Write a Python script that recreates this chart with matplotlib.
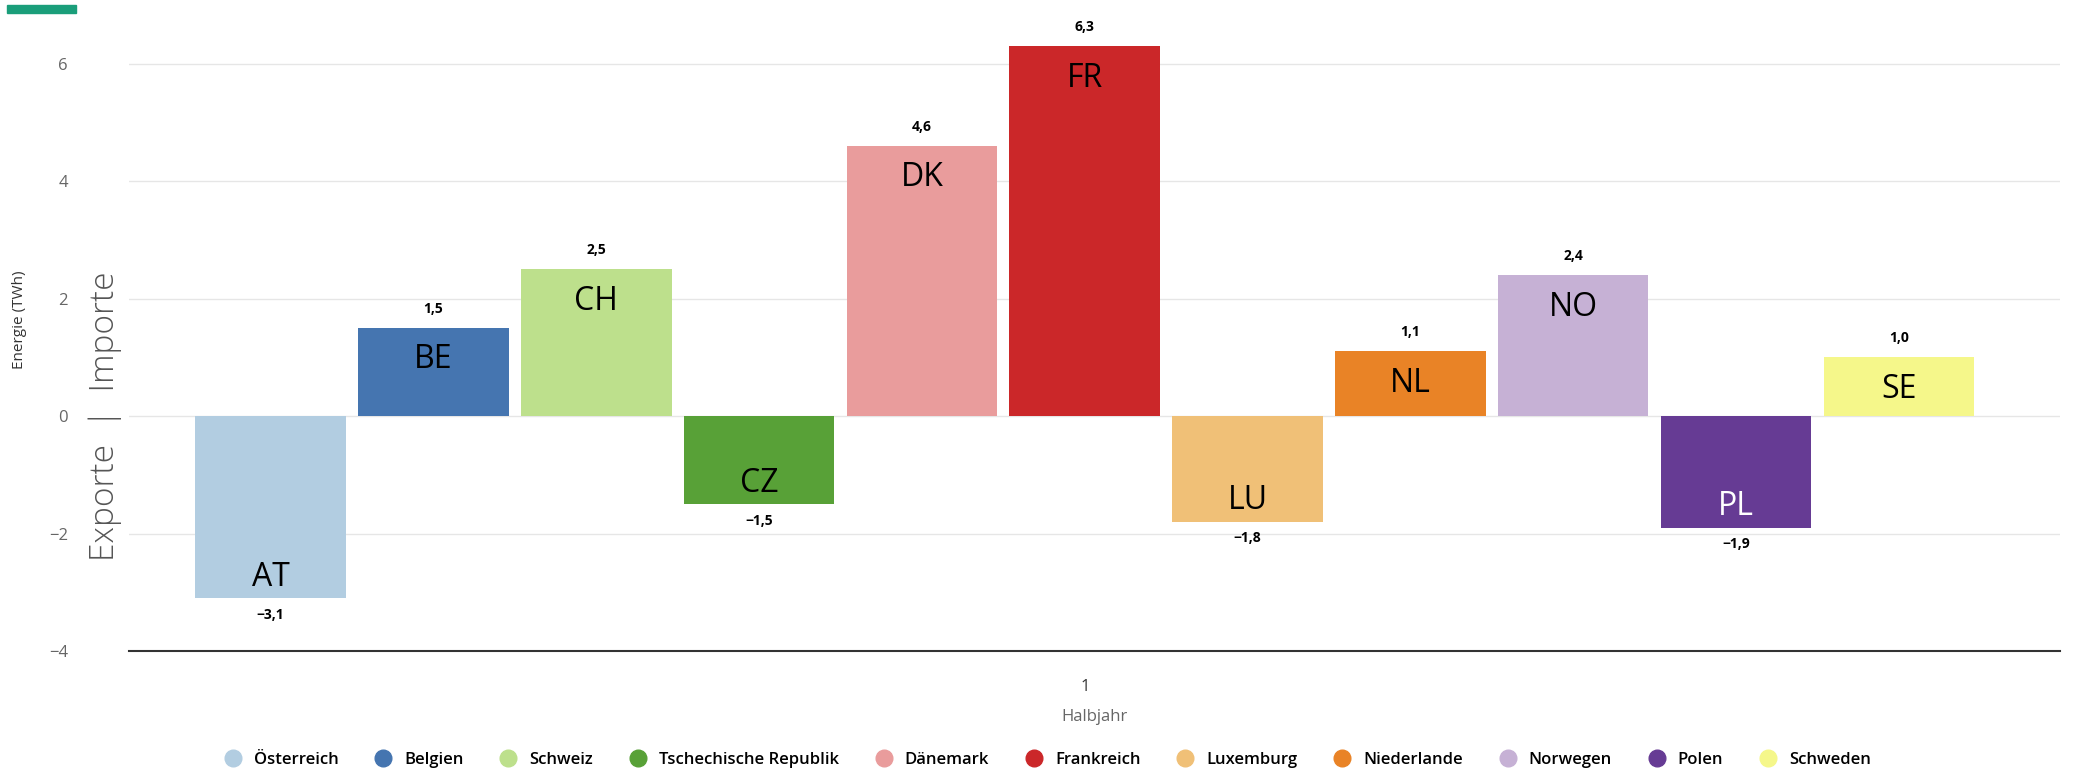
import matplotlib.pyplot as plt
from matplotlib.lines import Line2D
from matplotlib.transforms import blended_transform_factory

plt.rcParams['font.family'] = ['Open Sans', 'DejaVu Sans']

# data: net exchange per neighbour country, first half-year (TWh)
codes = ["AT", "BE", "CH", "CZ", "DK", "FR", "LU", "NL", "NO", "PL", "SE"]
names = ["Österreich", "Belgien", "Schweiz", "Tschechische Republik", "Dänemark",
         "Frankreich", "Luxemburg", "Niederlande", "Norwegen", "Polen", "Schweden"]
values = [-3.1, 1.5, 2.5, -1.5, 4.6, 6.3, -1.8, 1.1, 2.4, -1.9, 1.0]
colors = ["#b2cde1", "#4575b0", "#bde08c", "#58a137", "#e99c9c", "#cb2729",
          "#f0c077", "#e98326", "#c6b1d5", "#663b94", "#f5f78a"]
yticks = [-4, -2, 0, 2, 4, 6]

W, H = 2087, 769
fig = plt.figure(figsize=(W / 100, H / 100), dpi=100)
ax = fig.add_axes([129 / W, 118 / H, 1931 / W, 646 / H])

xs = list(range(len(values)))
ax.bar(xs, values, width=0.925, color=colors, zorder=2)

for x, v, c in zip(xs, values, codes):
    txt = f"{v:.1f}".replace(".", ",").replace("-", "\u2212")
    if v >= 0:
        ax.annotate(txt, (x, v), xytext=(0, 14), textcoords="offset points",
                    ha="center", va="center", fontsize=10, fontweight="bold")
        ax.annotate(c, (x, v), xytext=(0, -23), textcoords="offset points",
                    ha="center", va="center", fontsize=23, color="black")
    else:
        ax.annotate(txt, (x, v), xytext=(0, -12), textcoords="offset points",
                    ha="center", va="center", fontsize=10, fontweight="bold")
        ax.annotate(c, (x, v), xytext=(0, 15), textcoords="offset points",
                    ha="center", va="center", fontsize=23,
                    color="white" if c == "PL" else "black")

ax.set_xlim(-0.87, 10.99)
ax.set_ylim(-4, 7)
ax.set_yticks(yticks)
ax.set_yticklabels([str(t).replace("-", "\u2212") for t in yticks])
ax.set_xticks([5])
ax.set_xticklabels(["1"])
ax.tick_params(axis="y", length=0, pad=44, labelsize=12, labelcolor="#666666")
ax.tick_params(axis="x", length=0, pad=20, labelsize=12, labelcolor="#333333")
ax.set_xlabel("Halbjahr", fontsize=12, color="#666666", labelpad=10)
ax.grid(axis="y", color="#e6e6e6", linewidth=1, zorder=0)
for s in ["top", "right", "left"]:
    ax.spines[s].set_visible(False)
ax.spines["bottom"].set_color("#333333")
ax.spines["bottom"].set_linewidth(1.5)

fig.text(20 / W, (769 - 320) / H, "Energie (TWh)", rotation=90,
         ha="center", va="center", fontsize=11, color="#333333")
tr = blended_transform_factory(fig.transFigure, ax.transData)
ax.text(105 / W, 0, "Exporte  |  Importe", transform=tr, rotation=90,
        ha="center", va="center", fontsize=24, color="#555555",
        fontweight="light", clip_on=False)

# green accent bar in the top left corner
fig.patches.append(plt.Rectangle((7 / W, 1 - 13 / H), 69 / W, 8 / H,
                                 transform=fig.transFigure, color="#1a9e7a"))

handles = [Line2D([], [], marker="o", linestyle="", markersize=12,
                  markerfacecolor=c, markeredgecolor=c) for c in colors]
fig.legend(handles, names, loc="lower center", bbox_to_anchor=(0.5, -0.018),
           ncol=len(names), frameon=False, handletextpad=0.25,
           columnspacing=1.7, prop={"weight": "semibold", "size": 12})

fig.savefig("out.png", dpi=100)
